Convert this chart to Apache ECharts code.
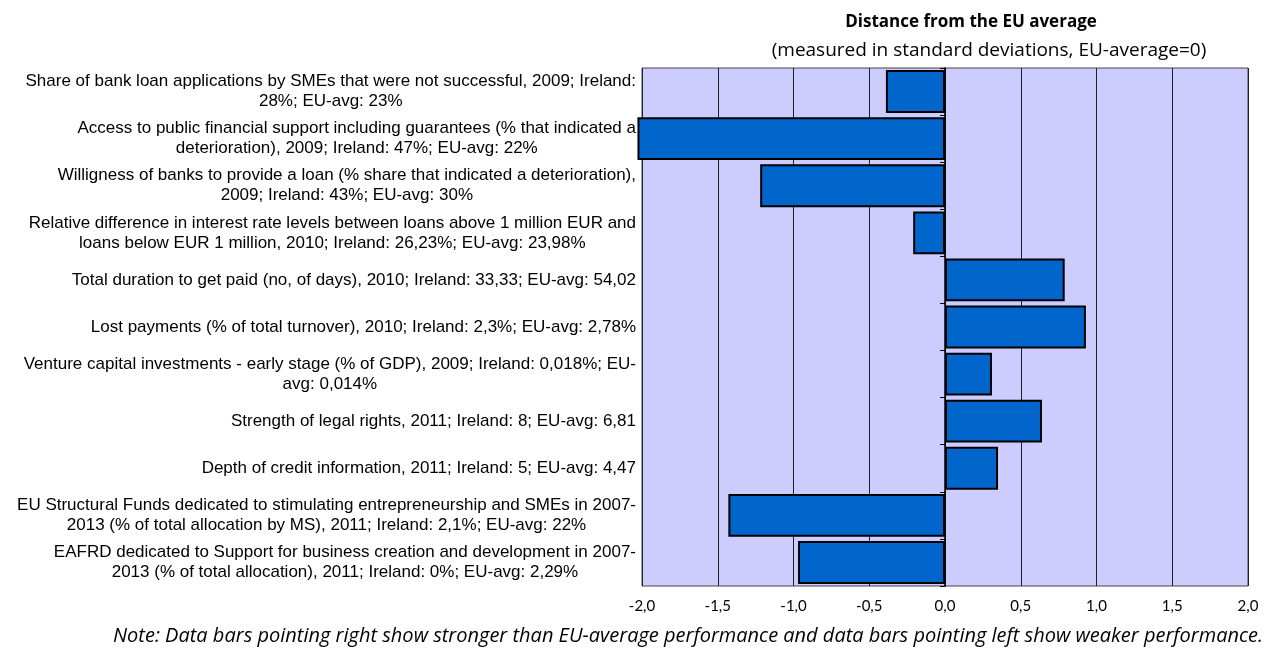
<!DOCTYPE html>
<html>
<head>
<meta charset="utf-8">
<script src="https://cdn.jsdelivr.net/npm/echarts@6/dist/echarts.min.js"></script>
<style>
  html, body { margin: 0; padding: 0; background: #fff; }
  #chart { width: 1274px; height: 662px; }
</style>
</head>
<body>
<div id="chart"></div>
<script>
// Indicator labels (top to bottom)
const categories = [
  'Share of bank loan applications by SMEs that were not successful, 2009; Ireland:\n28%; EU-avg: 23%',
  'Access to public financial support including guarantees (% that indicated a\ndeterioration), 2009; Ireland: 47%; EU-avg: 22%',
  'Willigness of banks to provide a loan (% share that indicated a deterioration),\n2009; Ireland: 43%; EU-avg: 30%',
  'Relative difference in interest rate levels between loans above 1 million EUR and\nloans below EUR 1 million, 2010; Ireland: 26,23%; EU-avg: 23,98%',
  'Total duration to get paid (no, of days), 2010; Ireland: 33,33; EU-avg: 54,02',
  'Lost payments (% of total turnover), 2010; Ireland: 2,3%; EU-avg: 2,78%',
  'Venture capital investments - early stage (% of GDP), 2009; Ireland: 0,018%; EU-\navg: 0,014%',
  'Strength of legal rights, 2011; Ireland: 8; EU-avg: 6,81',
  'Depth of credit information, 2011; Ireland: 5; EU-avg: 4,47',
  'EU Structural Funds dedicated to stimulating entrepreneurship and SMEs in 2007-\n2013 (% of total allocation by MS), 2011; Ireland: 2,1%; EU-avg: 22%',
  'EAFRD dedicated to Support for business creation and development in 2007-\n2013 (% of total allocation), 2011; Ireland: 0%; EU-avg: 2,29%'
];

// Distance from the EU average, in standard deviations
const distances = [-0.39, -2.03, -1.22, -0.21, 0.79, 0.93, 0.31, 0.64, 0.35, -1.43, -0.97];

// Value axis range and step
const axisMin = -2.0;
const axisMax = 2.0;
const axisStep = 0.5;

const labelFont = "'Liberation Sans', Arial, sans-serif";
const headFont = "'Open Sans', Lato, sans-serif";
const tickFont = "Lato, 'Open Sans', sans-serif";

const chart = echarts.init(document.getElementById('chart'), null, { renderer: 'canvas' });

const gridLeft = 642, gridRight = 26;
const plotWidth = 1274 - gridLeft - gridRight;
const zeroOffset = plotWidth * (0 - axisMin) / (axisMax - axisMin);

chart.setOption({
  animation: false,
  backgroundColor: '#ffffff',
  title: [
    {
      text: 'Distance from the EU average',
      left: 966, top: 9, textAlign: 'center',
      textStyle: { fontFamily: headFont, fontSize: 17, fontWeight: 'bold', color: '#000' }
    },
    {
      text: '(measured in standard deviations, EU-average=0)',
      left: 984, top: 36, textAlign: 'center',
      textStyle: { fontFamily: headFont, fontSize: 19, fontWeight: 'normal', color: '#000' }
    },
    {
      text: 'Note: Data bars pointing right show stronger than EU-average performance and data bars pointing left show weaker performance.',
      right: 6, top: 621,
      textStyle: { fontFamily: headFont, fontSize: 20, fontStyle: 'italic', fontWeight: 'normal', color: '#000' }
    }
  ],
  grid: {
    left: gridLeft, right: gridRight, top: 68, bottom: 76,
    show: true, backgroundColor: '#CCCCFF', borderColor: '#444', borderWidth: 1
  },
  xAxis: {
    type: 'value',
    min: axisMin, max: axisMax, interval: axisStep,
    axisLine: { show: false },
    axisTick: { show: false },
    splitLine: { show: true, lineStyle: { color: '#222', width: 1 } },
    axisLabel: {
      margin: 13,
      fontFamily: tickFont, fontSize: 15, color: '#000',
      formatter: v => v.toFixed(1).replace('.', ',')
    }
  },
  yAxis: [
    {
      type: 'category',
      inverse: true,
      data: categories,
      axisLine: { show: false },
      axisTick: { show: false },
      axisLabel: {
        margin: 6,
        align: 'right',
        fontFamily: labelFont, fontSize: 17, color: '#000',
        lineHeight: 20,
        formatter: s => s.split('\n').map(line => '{c|' + line + '}').join('\n'),
        rich: {
          c: { align: 'center', fontFamily: labelFont, fontSize: 17, lineHeight: 20, color: '#000' }
        }
      }
    },
    {
      // zero line with category boundary ticks
      type: 'category',
      inverse: true,
      position: 'left',
      offset: -zeroOffset,
      data: categories,
      axisLine: { show: true, lineStyle: { color: '#000', width: 1.5 } },
      axisTick: { show: true, length: 5, lineStyle: { color: '#000', width: 1 } },
      axisLabel: { show: false }
    }
  ],
  series: [
    {
      type: 'bar',
      yAxisIndex: 0,
      data: distances,
      clip: false,
      barCategoryGap: '9%',
      itemStyle: { color: '#0066CC', borderColor: '#000', borderWidth: 2 }
    }
  ]
});
</script>
</body>
</html>
